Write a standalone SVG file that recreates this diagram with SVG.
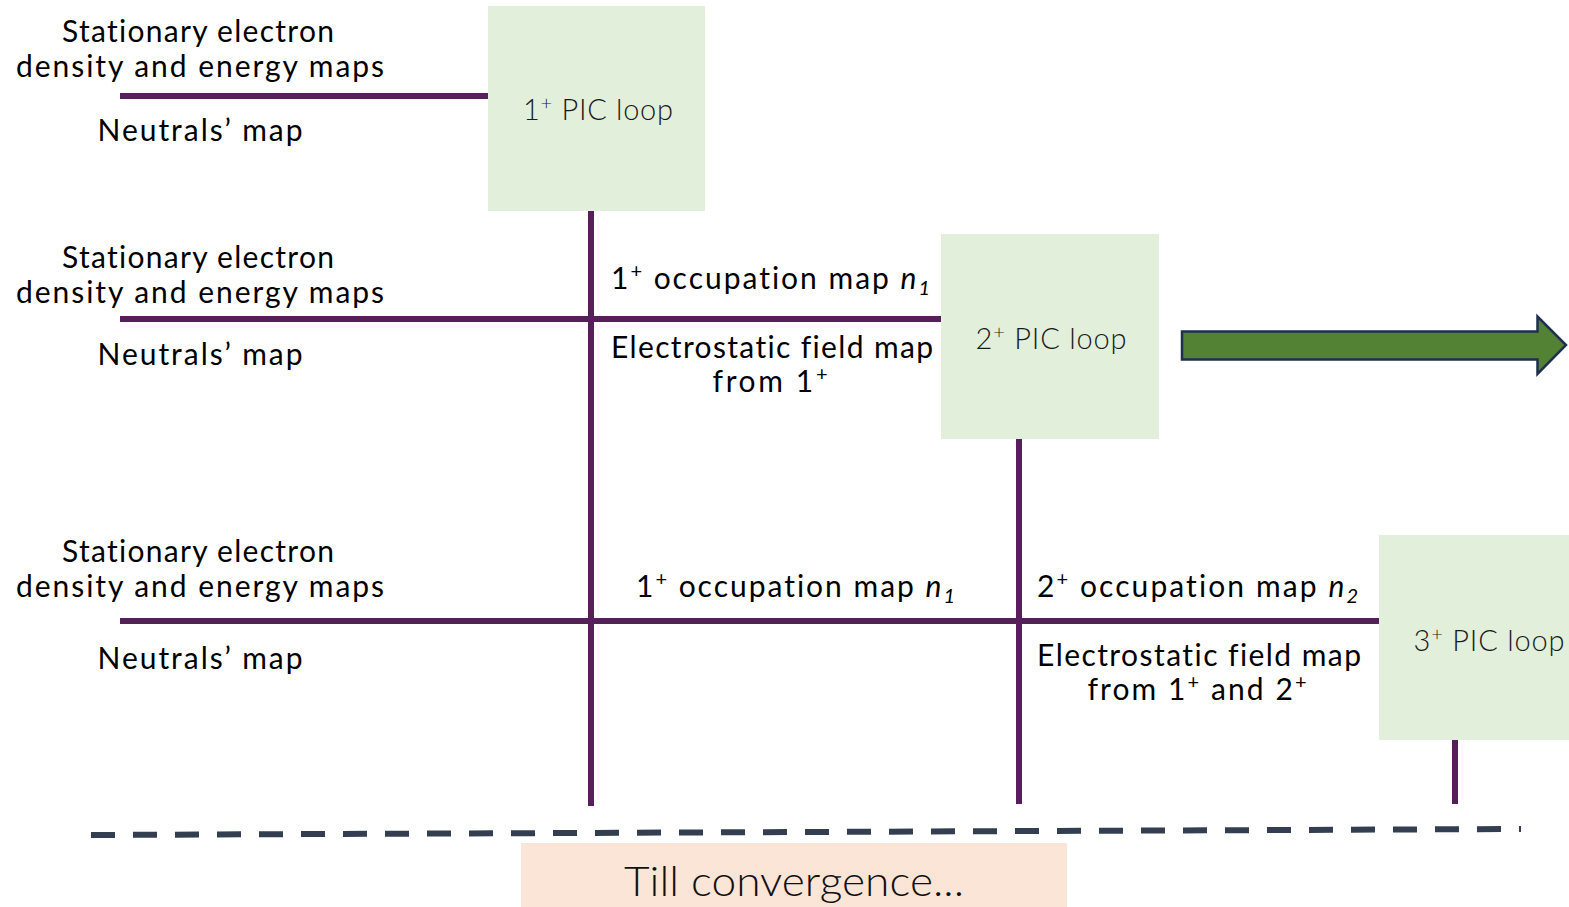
<svg xmlns="http://www.w3.org/2000/svg" width="1569" height="907" viewBox="0 0 1569 907">
<style>
.t{font-family:Lato,"Noto Sans","Liberation Sans",sans-serif;font-size:30px;fill:#000;font-variant-ligatures:none;}
.c{text-anchor:middle;}
.bl{font-family:Lato,"Noto Sans","Liberation Sans",sans-serif;font-size:29px;font-weight:300;fill:#1a1a1a;text-anchor:middle;}
.box{fill:#E2EFDA;}
.ln{stroke:#561F5B;stroke-width:6;fill:none;}
.sup{font-size:20px;}
.it{font-style:italic;}
</style>
<rect width="1569" height="907" fill="#fff"/>
<g id="connectors">
<line class="ln" x1="120" y1="96" x2="488" y2="96"/>
<line class="ln" x1="591" y1="211" x2="591" y2="806"/>
<line class="ln" x1="120" y1="319" x2="941" y2="319"/>
<line class="ln" x1="1019" y1="439" x2="1019" y2="804"/>
<line class="ln" x1="120" y1="621" x2="1379" y2="621"/>
<line class="ln" x1="1455" y1="740" x2="1455" y2="804"/>
<line x1="91" y1="835" x2="1521" y2="829" stroke="#333F50" stroke-width="6" stroke-dasharray="24 18"/>
</g>
<g id="inputs1">
<text class="t c" x="198" y="42" textLength="272" lengthAdjust="spacing">Stationary electron</text>
<text class="t c" x="200" y="77" textLength="368" lengthAdjust="spacing">density and energy maps</text>
<text class="t c" x="200" y="141" textLength="205" lengthAdjust="spacing">Neutrals’ map</text>
</g>
<g id="inputs2">
<text class="t c" x="198" y="268" textLength="272" lengthAdjust="spacing">Stationary electron</text>
<text class="t c" x="200" y="303" textLength="368" lengthAdjust="spacing">density and energy maps</text>
<text class="t c" x="200" y="365" textLength="205" lengthAdjust="spacing">Neutrals’ map</text>
</g>
<g id="inputs3">
<text class="t c" x="198" y="562" textLength="272" lengthAdjust="spacing">Stationary electron</text>
<text class="t c" x="200" y="597" textLength="368" lengthAdjust="spacing">density and energy maps</text>
<text class="t c" x="200" y="669" textLength="205" lengthAdjust="spacing">Neutrals’ map</text>
</g>
<g id="loop1">
<rect class="box" x="488" y="6" width="217" height="205"/>
<text class="bl" x="598" y="120" textLength="150" lengthAdjust="spacing">1<tspan class="sup" dy="-10">+</tspan><tspan dy="10"> PIC loop</tspan></text>
</g>
<g id="loop2">
<rect class="box" x="941" y="234" width="218" height="205"/>
<text class="bl" x="1051" y="349" textLength="151" lengthAdjust="spacing">2<tspan class="sup" dy="-10">+</tspan><tspan dy="10"> PIC loop</tspan></text>
</g>
<g id="loop3">
<rect class="box" x="1379" y="535" width="190" height="205"/>
<text class="bl" x="1489" y="651" textLength="151" lengthAdjust="spacing">3<tspan class="sup" dy="-10">+</tspan><tspan dy="10"> PIC loop</tspan></text>
</g>
<g id="labels-row2">
<text class="t" x="611" y="289" textLength="319" lengthAdjust="spacing">1<tspan class="sup" dy="-11">+</tspan><tspan dy="11"> occupation map </tspan><tspan class="it">n</tspan><tspan class="it sup" dy="6">1</tspan></text>
<text class="t c" x="772" y="358" textLength="322" lengthAdjust="spacing">Electrostatic field map</text>
<text class="t c" x="770" y="392" textLength="115" lengthAdjust="spacing">from 1<tspan class="sup" dy="-11">+</tspan></text>
</g>
<g id="labels-row3">
<text class="t" x="636" y="597" textLength="319" lengthAdjust="spacing">1<tspan class="sup" dy="-11">+</tspan><tspan dy="11"> occupation map </tspan><tspan class="it">n</tspan><tspan class="it sup" dy="6">1</tspan></text>
<text class="t" x="1037" y="597" textLength="321" lengthAdjust="spacing">2<tspan class="sup" dy="-11">+</tspan><tspan dy="11"> occupation map </tspan><tspan class="it">n</tspan><tspan class="it sup" dy="6">2</tspan></text>
<text class="t c" x="1199" y="666" textLength="324" lengthAdjust="spacing">Electrostatic field map</text>
<text class="t c" x="1197" y="700" textLength="219" lengthAdjust="spacing">from 1<tspan class="sup" dy="-11">+</tspan><tspan dy="11"> and 2</tspan><tspan class="sup" dy="-11">+</tspan></text>
</g>
<g id="next-arrow">
<polygon points="1182,331.5 1537.5,331.5 1537.5,316.5 1566,345 1537.5,374 1537.5,359.5 1182,359.5" fill="#548235" stroke="#1F2F50" stroke-width="2.5"/>
</g>
<g id="convergence">
<rect x="521" y="843" width="546" height="64" fill="#FBE5D6"/>
<text class="bl" x="794" y="896" style="font-size:42px;fill:#111" textLength="340" lengthAdjust="spacingAndGlyphs">Till convergence...</text>
</g>
</svg>
